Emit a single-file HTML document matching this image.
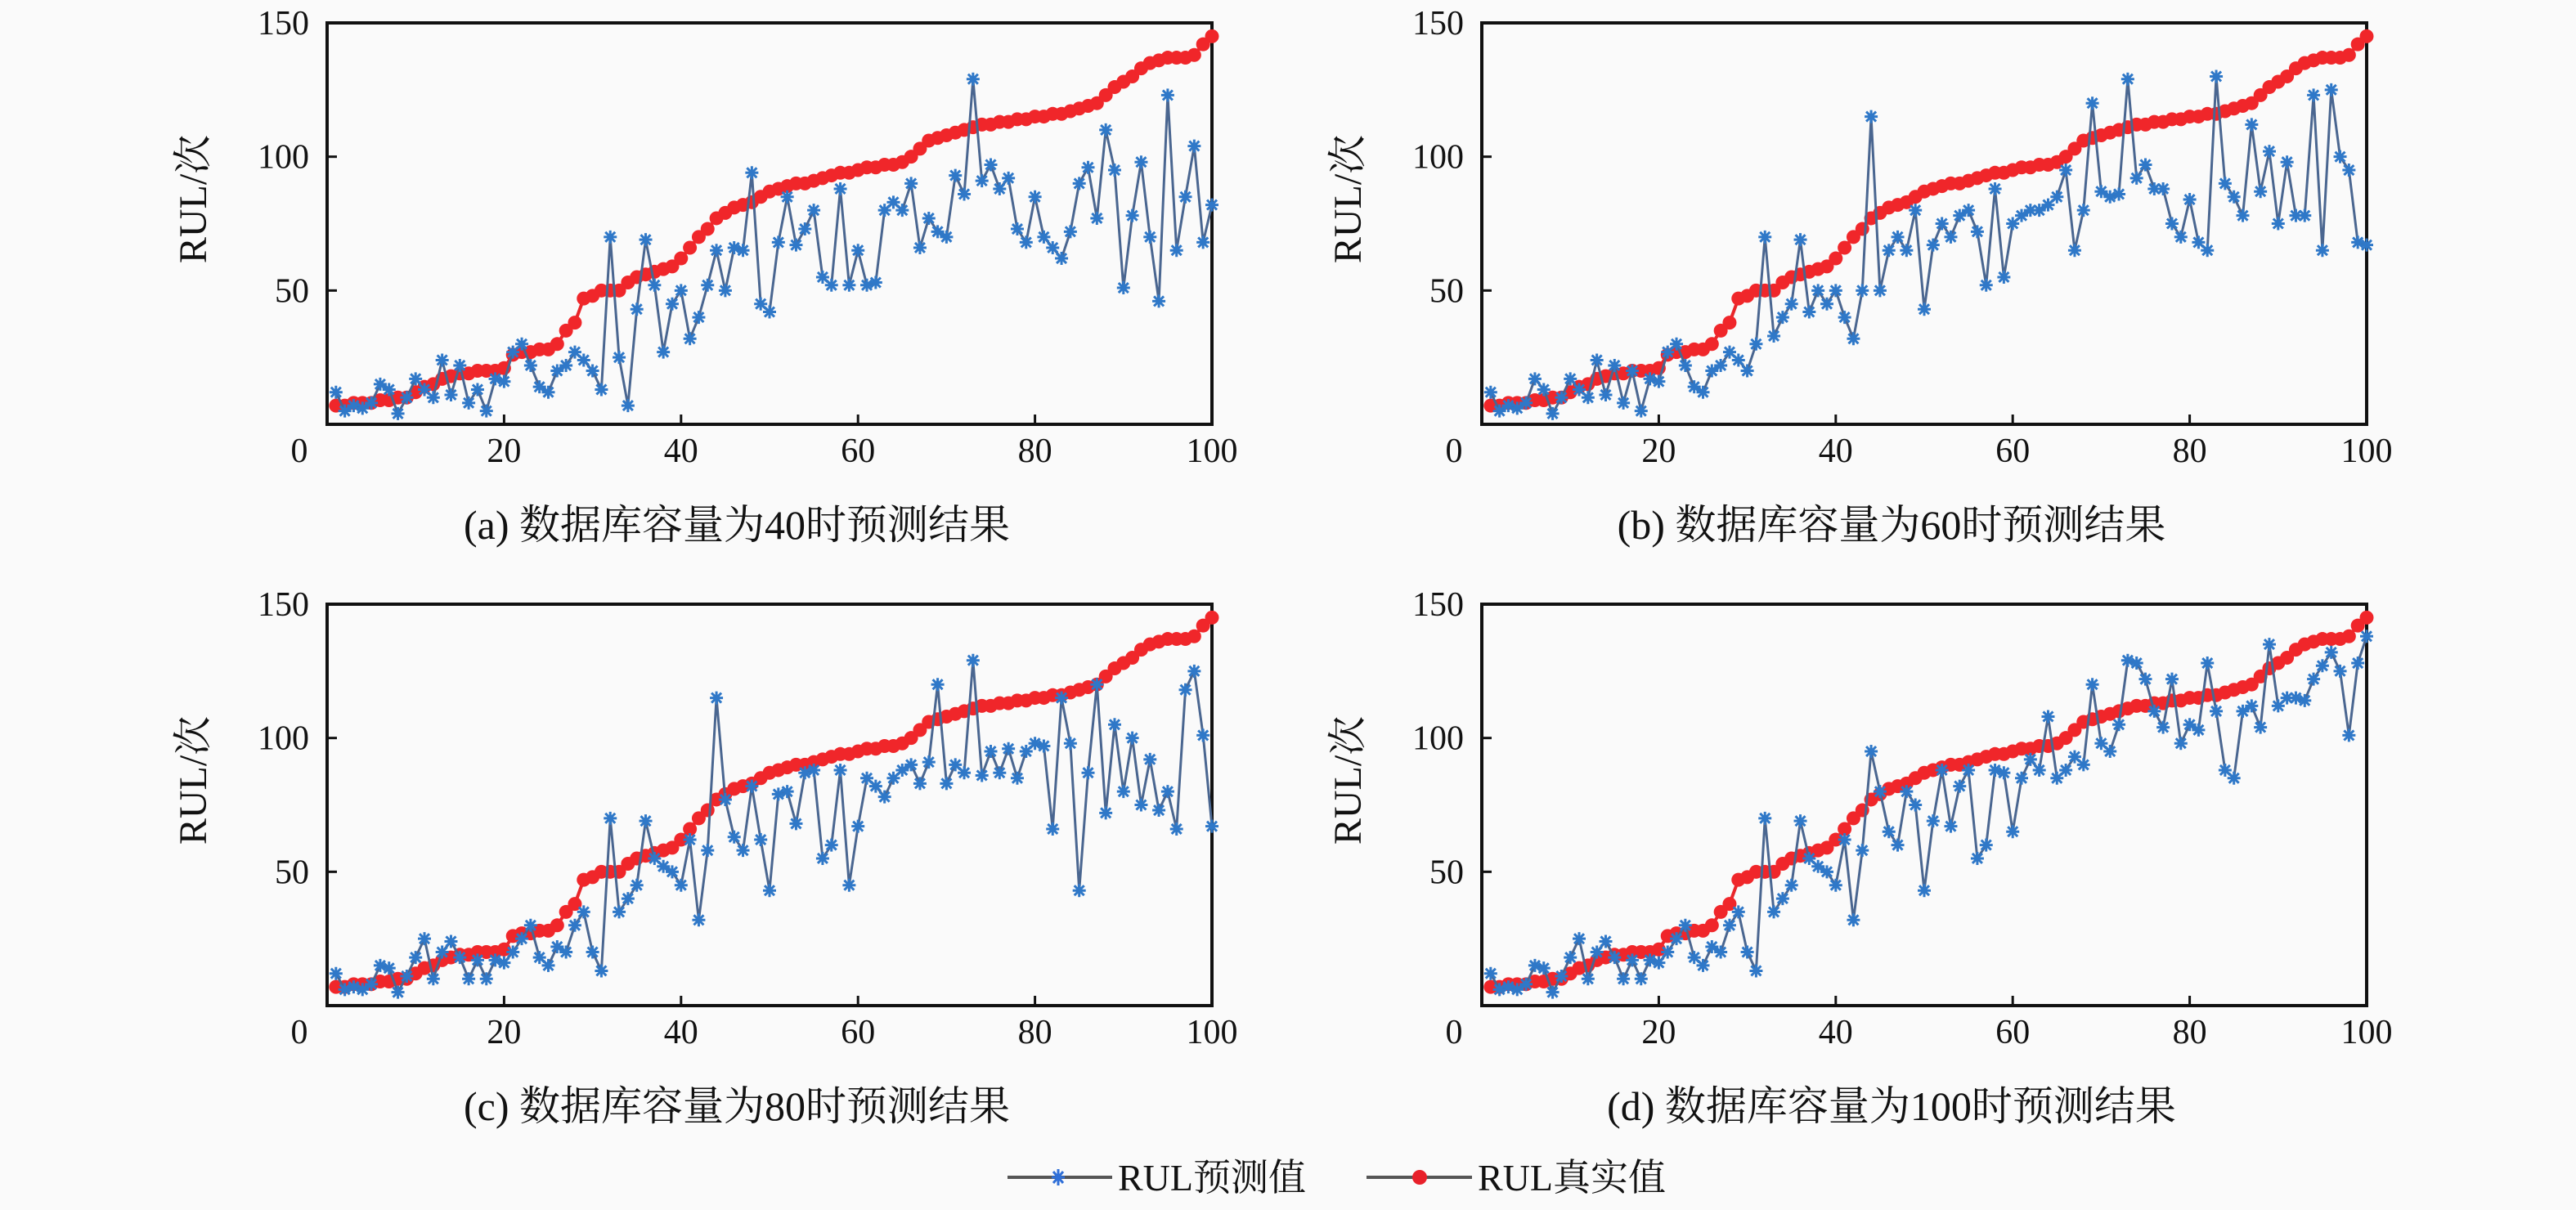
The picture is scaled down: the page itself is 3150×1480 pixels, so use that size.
<!DOCTYPE html>
<html><head><meta charset="utf-8">
<style>
html,body{margin:0;padding:0;background:#fafafa;}
svg{display:block;}
text{font-family:"Liberation Serif","Noto Serif CJK SC",serif;fill:#111;}
</style></head>
<body>
<svg id="chart" width="3150" height="1480" viewBox="0 0 3150 1480" xmlns="http://www.w3.org/2000/svg"></svg>
<script>
const trueValues = [7,7,8,8,8,9,9,10,10,12,14,15,17,18,19,19,20,20,20,21,26,27,27,28,28,30,35,38,47,48,50,50,50,53,55,56,57,58,59,62,66,70,73,77,79,81,82,83,85,87,88,89,90,90,91,92,93,94,94,95,96,96,97,97,98,100,103,106,107,108,109,110,111,112,112,113,113,114,114,115,115,116,116,117,118,119,120,123,126,128,130,133,135,136,137,137,137,138,142,145];
const predA = [12,5,7,6,8,15,13,4,10,17,13,10,24,11,22,8,13,5,17,16,27,30,22,14,12,20,22,27,24,20,13,70,25,7,43,69,52,27,45,50,32,40,52,65,50,66,65,94,45,42,68,85,67,73,80,55,52,88,52,65,52,53,80,83,80,90,66,77,72,70,93,86,129,91,97,88,92,73,68,85,70,66,62,72,90,96,77,110,95,51,78,98,70,46,123,65,85,104,68,82];
const predB = [12,5,7,6,8,17,13,4,10,17,13,10,24,11,22,8,20,5,17,16,27,30,22,14,12,20,22,27,24,20,30,70,33,40,45,69,42,50,45,50,40,32,50,115,50,65,70,65,80,43,67,75,70,78,80,72,52,88,55,75,78,80,80,82,85,95,65,80,120,87,85,86,129,92,97,88,88,75,70,84,68,65,130,90,85,78,112,87,102,75,98,78,78,123,65,125,100,95,68,67];
const predC = [12,6,7,6,8,15,14,5,11,18,25,10,20,24,18,10,17,10,17,16,20,25,30,18,15,22,20,30,35,20,13,70,35,40,45,69,55,52,50,45,62,32,58,115,77,63,58,82,62,43,79,80,68,87,88,55,60,88,45,67,85,82,78,85,88,90,83,91,120,83,90,87,129,86,95,87,96,85,95,98,97,66,115,98,43,87,120,72,105,80,100,75,92,73,80,66,118,125,101,67];
const predD = [12,6,7,6,8,15,14,5,11,18,25,10,20,24,18,10,17,10,17,16,20,25,30,18,15,22,20,30,35,20,13,70,35,40,45,69,55,52,50,45,62,32,58,95,80,65,60,80,75,43,69,88,67,82,88,55,60,88,87,65,85,92,88,108,85,88,93,90,120,98,95,105,129,128,122,110,104,122,98,105,103,128,110,88,85,110,112,104,135,112,115,115,114,122,127,132,125,101,128,138];
const xTicks = [0,20,40,60,80,100];
const yTicks = [50,100,150];
const captions = ["(a) 数据库容量为40时预测结果","(b) 数据库容量为60时预测结果","(c) 数据库容量为80时预测结果","(d) 数据库容量为100时预测结果"];
const panelSeries = [predA, predB, predC, predD];

const NS="http://www.w3.org/2000/svg";
const svg=document.getElementById('chart');
function mk(tag,attrs,parent){const e=document.createElementNS(NS,tag);for(const k in attrs)e.setAttribute(k,attrs[k]);(parent||svg).appendChild(e);return e;}

const panels=[{l:400,r:1482,t:28,b:519},{l:1812,r:2894,t:28,b:519},{l:400,r:1482,t:739,b:1230},{l:1812,r:2894,t:739,b:1230}];

panels.forEach((p,pi)=>{
  const g=mk('g',{});
  
  
  const xs=v=>p.l+(v/100)*(p.r-p.l);
  const ys=v=>p.b-(v/150)*(p.b-p.t);
  const box=mk('rect',{x:p.l,y:p.t,width:p.r-p.l,height:p.b-p.t,fill:'none',stroke:'#111','stroke-width':4},g);
  
  
  xTicks.forEach(v=>{
    if(v>0&&v<100){mk('line',{x1:xs(v),x2:xs(v),y1:p.b,y2:p.b-12,stroke:'#111','stroke-width':3},g);}
    const t=mk('text',{x:(v===0?p.l-34:xs(v)),y:p.b+46,'font-size':42,'text-anchor':'middle'},g);
    t.textContent=v;
    
    
  });
  yTicks.forEach(v=>{
    if(v<150)mk('line',{x1:p.l,x2:p.l+12,y1:ys(v),y2:ys(v),stroke:'#111','stroke-width':3},g);
    const t=mk('text',{x:p.l-22,y:ys(v)+14,'font-size':42,'text-anchor':'end'},g);
    t.textContent=v;
    
    
  });
  const yl=mk('text',{x:0,y:0,'font-size':48,'text-anchor':'middle',transform:`translate(${p.l-148},${(p.t+p.b)/2-30}) rotate(-90)`},g);
  yl.textContent='RUL/次';
  
  
  const cap=mk('text',{x:(p.l+p.r)/2-40,y:p.b+140,'font-size':50,'text-anchor':'middle'},g);
  cap.textContent=captions[pi];
  
  
  const tpts=trueValues.map((v,i)=>xs(i+1)+','+ys(v)).join(' ');
  const tl=mk('polyline',{points:tpts,fill:'none',stroke:'#e8262a','stroke-width':4},g);
  
  
  trueValues.forEach((v,i)=>{
    const c=mk('circle',{cx:xs(i+1),cy:ys(v),r:8.5,fill:'#f0262a'},g);
    
    
  });
  const pred=panelSeries[pi];
  const ppts=pred.map((v,i)=>xs(i+1)+','+ys(v)).join(' ');
  const pl=mk('polyline',{points:ppts,fill:'none',stroke:'#4a6690','stroke-width':3},g);
  
  
  pred.forEach((v,i)=>{
    const cx=xs(i+1),cy=ys(v),s=8;
    const st=mk('path',{d:`M${cx-s},${cy}H${cx+s}M${cx},${cy-s}V${cy+s}M${cx-6},${cy-6}L${cx+6},${cy+6}M${cx-6},${cy+6}L${cx+6},${cy-6}`,stroke:'#2f78c8','stroke-width':3},g);
    
    
  });
});

const lg=mk('g',{});


const l1=mk('line',{x1:1232,x2:1360,y1:1440,y2:1440,stroke:'#555','stroke-width':4},lg);


const s1=mk('path',{d:'M1286,1440H1302M1294,1430V1450M1288,1433L1300,1447M1288,1447L1300,1433',stroke:'#2f6fd8','stroke-width':3},lg);


const t1=mk('text',{x:1367,y:1456,'font-size':46},lg);
t1.textContent='RUL预测值';


const l2=mk('line',{x1:1671,x2:1800,y1:1440,y2:1440,stroke:'#555','stroke-width':4},lg);


const c2=mk('circle',{cx:1736,cy:1440,r:9,fill:'#e8202a'},lg);


const t2=mk('text',{x:1807,y:1456,'font-size':46},lg);
t2.textContent='RUL真实值';


</script>
</body></html>
